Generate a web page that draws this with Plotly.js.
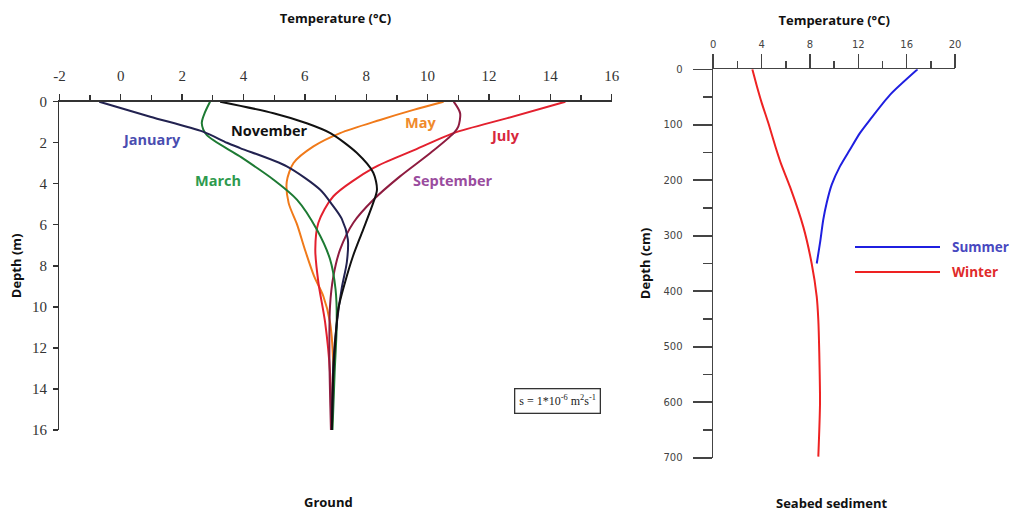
<!DOCTYPE html>
<html>
<head>
<meta charset="utf-8">
<script src="https://cdn.plot.ly/plotly-3.0.1.min.js"></script>
<style>html,body{margin:0;padding:0;background:#fff;}#chart{width:1013px;height:513px;}</style>
</head>
<body>
<div id="chart"></div>
<script>
// ---------- Ground (left panel) ----------
const janTemp  = [-0.7, 0.96, 2.68, 3.46, 3.89, 5.41, 6.5, 6.88, 7.2, 7.4, 7.37, 7.2, 7.04, 6.93, 6.9, 6.88];
const janDepth = [0, 0.73, 1.46, 2.0, 2.26, 3.15, 4.29, 5.0, 5.7, 6.7, 7.8, 9.1, 10.8, 12.7, 14.5, 16];

const novTemp  = [3.24, 4.98, 6.06, 6.83, 7.69, 8.23, 8.35, 8.23, 7.9, 7.57, 7.31, 7.09, 6.99, 6.92, 6.88];
const novDepth = [0, 0.56, 1.05, 1.53, 2.49, 3.46, 4.29, 4.92, 6.23, 7.52, 8.8, 10.1, 11.7, 13.5, 16];

const marTemp  = [2.91, 2.75, 2.64, 2.8, 3.89, 4.98, 5.74, 6.39, 6.82, 7.0, 7.04, 6.97, 6.9];
const marDepth = [0, 0.5, 1.05, 1.62, 2.67, 3.8, 4.77, 6.23, 7.68, 9.14, 10.76, 13.2, 16];

const mayTemp  = [10.52, 9.54, 8.45, 7.15, 6.28, 5.63, 5.41, 5.47, 5.75, 6.0, 6.3, 6.6, 6.82, 6.93, 6.88];
const mayDepth = [0, 0.4, 0.89, 1.53, 2.18, 2.99, 3.9, 4.93, 6.0, 7.2, 8.5, 9.47, 10.76, 13.2, 16];

const julTemp  = [14.49, 12.6, 10.85, 9.5, 8.24, 6.93, 6.44, 6.34, 6.44, 6.66, 6.82, 6.86];
const julDepth = [0, 0.8, 1.53, 2.4, 3.23, 4.61, 5.9, 7.2, 8.8, 10.76, 13.2, 16];

const sepTemp  = [10.85, 11.06, 11.0, 10.85, 10.09, 9.1, 8.24, 7.58, 7.15, 6.93, 6.82, 6.8, 6.85];
const sepDepth = [0, 0.56, 1.21, 1.53, 2.5, 3.64, 4.77, 5.9, 7.2, 8.5, 9.95, 12.4, 16];

const monthNames  = ["January", "November", "March", "May", "July", "September"];
const monthLabelX = [0.99, 4.84, 3.17, 9.76, 12.53, 10.83];
const monthLabelY = [1.86, 1.42, 3.85, 1.03, 1.67, 3.85];

const groundTickVals = [-2, 0, 2, 4, 6, 8, 10, 12, 14, 16];
const groundDepthTicks = [0, 2, 4, 6, 8, 10, 12, 14, 16];

// ---------- Seabed sediment (right panel) ----------
const summerTemp  = [16.9, 14.62, 12.96, 12.13, 11.3, 10.48, 9.8, 9.38, 9.1, 8.83, 8.56];
const summerDepth = [0, 46, 91, 115, 145, 175, 208, 241, 271, 313, 350];

const winterTemp  = [3.23, 3.6, 4.0, 4.6, 5.15, 5.6, 6.35, 7.45, 8.14, 8.56, 8.69, 8.77, 8.83, 8.69];
const winterDepth = [0, 30, 60, 100, 140, 170, 212, 284, 350, 410, 452, 512, 602, 698];

const seabedTempTicks  = [0, 4, 8, 12, 16, 20];
const seabedDepthTicks = [0, 100, 200, 300, 400, 500, 600, 700];

const seriesNames = ["Summer", "Winter"];

// ---------- styles ----------
const lineColors  = {January:"#222250", November:"#111111", March:"#1d7a33", May:"#f07a1a", July:"#e3202e", September:"#8e1c40"};
const labelColors = {January:"#4a4db0", November:"#111111", March:"#2e9a4e", May:"#f08a2c", July:"#d7283c", September:"#9a4c9e"};

function mk(x, y, name, color, xa, ya, sm) {
  return {x: x, y: y, name: name, type: "scatter", mode: "lines",
          line: {color: color, width: 2, shape: "spline", smoothing: sm || 0.8},
          xaxis: xa, yaxis: ya, hoverinfo: "x+y+name"};
}

const traces = [
  mk(mayTemp, mayDepth, "May", lineColors.May, "x", "y"),
  mk(julTemp, julDepth, "July", lineColors.July, "x", "y"),
  mk(sepTemp, sepDepth, "September", lineColors.September, "x", "y"),
  mk(marTemp, marDepth, "March", lineColors.March, "x", "y"),
  mk(janTemp, janDepth, "January", lineColors.January, "x", "y"),
  mk(novTemp, novDepth, "November", lineColors.November, "x", "y"),
  mk(summerTemp, summerDepth, seriesNames[0], "#1f1fe0", "x2", "y2", 0.7),
  mk(winterTemp, winterDepth, seriesNames[1], "#ee2222", "x2", "y2", 0.7)
];

const serif = "Liberation Serif, Times New Roman, serif";
const sans  = "Open Sans, sans-serif";
const axCol = "#333333";

const annotations = monthNames.map((m, i) => ({
  x: monthLabelX[i], y: monthLabelY[i], xref: "x", yref: "y",
  xanchor: "center", yanchor: "middle",
  text: "<b>" + m + "</b>", showarrow: false,
  font: {family: sans, size: 14.5, color: labelColors[m]}
}));

annotations.push({
  x: 557 / 1013, y: 1 - 401 / 513, xref: "paper", yref: "paper",
  xanchor: "center", yanchor: "middle",
  text: "s = 1*10<sup>-6</sup> m<sup>2</sup>s<sup>-1</sup>", showarrow: false,
  font: {family: serif, size: 12, color: "#222"},
  bordercolor: "#333", borderwidth: 1.3, borderpad: 4, bgcolor: "#fff"
});
annotations.push({x: 328 / 1013, y: 1 - 502 / 513, xref: "paper", yref: "paper",
  xanchor: "center", yanchor: "middle",
  text: "<b>Ground</b>", showarrow: false, font: {family: sans, size: 13, color: "#111"}});
annotations.push({x: 832 / 1013, y: 1 - 503 / 513, xref: "paper", yref: "paper",
  xanchor: "center", yanchor: "middle",
  text: "<b>Seabed sediment</b>", showarrow: false, font: {family: sans, size: 13, color: "#111"}});

// legend for right panel
const legY = [1 - 247 / 513, 1 - 272 / 513];
const legTextCol = ["#4848c0", "#e02a2a"];
const legLineCol = ["#1f1fe0", "#ee2222"];
const shapes = [];
seriesNames.forEach((n, i) => {
  shapes.push({type: "line", xref: "paper", yref: "paper",
    x0: 855 / 1013, x1: 940 / 1013, y0: legY[i], y1: legY[i],
    line: {color: legLineCol[i], width: 2}});
  annotations.push({x: 950 / 1013, y: legY[i], xref: "paper", yref: "paper",
    xanchor: "left", yanchor: "middle", text: "<b>" + n + "</b>", showarrow: false,
    font: {family: sans, size: 13.5, color: legTextCol[i]}});
});

const layout = {
  width: 1013, height: 513,
  margin: {l: 0, r: 0, t: 0, b: 0},
  paper_bgcolor: "#fff", plot_bgcolor: "#fff",
  showlegend: false,
  xaxis: {
    domain: [59.4 / 1013, 611.7 / 1013], range: [-2, 16], side: "top", anchor: "y",
    tickvals: groundTickVals, ticktext: groundTickVals.map(String),
    ticks: "outside", ticklen: 6, tickwidth: 1.3, tickcolor: axCol,
    minor: {dtick: 1, tick0: 0, ticks: "outside", ticklen: 5, tickwidth: 1.2, tickcolor: axCol, showgrid: false},
    showline: true, linecolor: axCol, linewidth: 1.5, showgrid: false, zeroline: false,
    tickfont: {family: serif, size: 15, color: "#333"}, ticklabelstandoff: 7,
    title: {text: "<b>Temperature (°C)</b>", font: {family: sans, size: 13, color: "#111"}, standoff: 41}
  },
  yaxis: {
    domain: [1 - 430 / 513, 1 - 101.7 / 513], range: [16, 0], anchor: "x",
    tickvals: groundDepthTicks, ticks: "outside", ticklen: 5, tickwidth: 1.3, tickcolor: axCol,
    showline: true, linecolor: axCol, linewidth: 1.5, showgrid: false, zeroline: false,
    tickfont: {family: serif, size: 15, color: "#333"}, ticklabelstandoff: 3,
    title: {text: "<b>Depth (m)</b>", font: {family: sans, size: 13, color: "#111"}, standoff: 7}
  },
  xaxis2: {
    domain: [713.3 / 1013, 955 / 1013], range: [0, 20], side: "top", anchor: "y2",
    tickvals: seabedTempTicks, ticks: "outside", ticklen: 14, tickwidth: 1.6, tickcolor: "#444",
    minor: {dtick: 2, tick0: 0, ticks: "outside", ticklen: 7, tickwidth: 1.6, tickcolor: "#444", showgrid: false},
    showline: true, linecolor: "#444", linewidth: 1.8, showgrid: false, zeroline: false,
    tickfont: {family: "DejaVu Sans, sans-serif", size: 10, color: "#444"}, ticklabelstandoff: 2,
    title: {text: "<b>Temperature (°C)</b>", font: {family: sans, size: 13, color: "#111"}, standoff: 10}
  },
  yaxis2: {
    domain: [1 - 457.7 / 513, 1 - 69.3 / 513], range: [700, 0], anchor: "x2",
    tickvals: seabedDepthTicks, ticks: "outside", ticklen: 19, tickwidth: 1.6, tickcolor: "#444",
    minor: {dtick: 50, tick0: 0, ticks: "outside", ticklen: 9, tickwidth: 1.6, tickcolor: "#444", showgrid: false},
    showline: true, linecolor: "#444", linewidth: 1.8, showgrid: false, zeroline: false,
    tickfont: {family: "DejaVu Sans, sans-serif", size: 10, color: "#444"}, ticklabelstandoff: 8,
    title: {text: "<b>Depth (cm)</b>", font: {family: sans, size: 13, color: "#111"}, standoff: 10}
  },
  annotations: annotations,
  shapes: shapes
};

Plotly.newPlot("chart", traces, layout, {displayModeBar: false, staticPlot: true});
</script>
</body>
</html>
